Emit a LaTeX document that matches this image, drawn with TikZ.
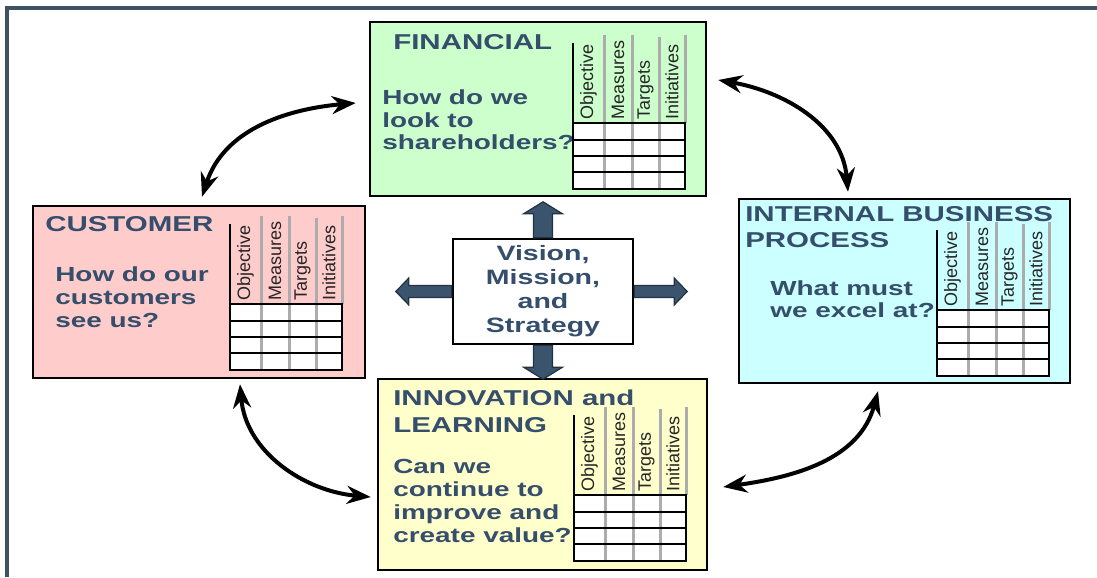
\documentclass[tikz,border=0pt]{standalone}
\usepackage{fontspec}
\setmainfont{Liberation Sans}
\newfontfamily\widefont[FakeStretch=1.37]{Liberation Sans}
\usetikzlibrary{arrows.meta}

\definecolor{finfill}{RGB}{204,255,204}
\definecolor{custfill}{RGB}{255,204,204}
\definecolor{intlfill}{RGB}{204,255,255}
\definecolor{innovfill}{RGB}{255,255,204}
\definecolor{ink}{RGB}{52,78,108}
\definecolor{arrowfill}{RGB}{58,84,110}
\definecolor{framecol}{RGB}{62,82,98}

\begin{document}
\begin{tikzpicture}[x=0.25mm, y=0.25mm,
  card/.style={draw, line width=0.6mm, inner sep=0},
  head/.style={anchor=base west, inner sep=0, align=left, text=ink,
    font=\widefont\bfseries\fontsize{15.3}{18.5}\selectfont},
  ask/.style={anchor=base west, inner sep=0, align=left, text=ink,
    font=\widefont\bfseries\fontsize{14.5}{16.2}\selectfont},
  collabel/.style={rotate=90, anchor=west, inner sep=0, text=black!85,
    font=\fontsize{12.8}{14}\selectfont},
  link/.style={{Stealth[length=6mm, width=4.5mm]}-{Stealth[length=6mm, width=4.5mm]}, line width=1mm},
  bigarrow/.style={fill=arrowfill, draw=arrowfill!60!black, line width=0.3mm},
  scoretable/.pic={
    \fill[white] (0,0) rectangle (112,-66);
    \draw[gray!65, line width=0.75mm] (31,88) -- (31,-66) (59,88) -- (59,-66)
      (86,86) -- (86,-66) (112,88) -- (112,0);
    \draw[line width=0.5mm] (0,80) -- (0,0);
    \draw[line width=0.35mm] (0,-17) -- (112,-17) (0,-33) -- (112,-33) (0,-49) -- (112,-49);
    \draw[line width=0.6mm] (0,0) rectangle (112,-66);
    \foreach \colname/\cx [count=\i] in {Objective/15.5,Measures/45,Targets/72.5,Initiatives/99}
      \node[collabel] (-col\i) at (\cx,3) {\colname};
  }]
  \useasboundingbox (0,0) rectangle (1097,577);
  \draw[framecol, line width=0.8mm] (7,0) -- (7,569) -- (1097,569);

  % the four perspectives
  \node[card, fill=finfill, minimum width=84mm, minimum height=43.5mm] (fin) at (538,468) {};
  \node[card, fill=custfill, minimum width=83mm, minimum height=43mm] (cust) at (199,285) {};
  \node[card, fill=intlfill, minimum width=82.75mm, minimum height=46mm] (intl) at (904.5,286) {};
  \node[card, fill=innovfill, minimum width=82.25mm, minimum height=47.75mm] (innov) at (542.5,102.5) {};

  % text blocks sit on the baseline of their last line
  \node[head] (fintitle) at (393,527) {FINANCIAL};
  \node[ask] (finask) at (382,427) {How do we\\look to\\shareholders?};
  \node[head] (custtitle) at (45,345) {CUSTOMER};
  \node[ask] (custask) at (55,250) {How do our\\customers\\see us?};
  \node[head] (intltitle) at (745,329) {INTERNAL BUSINESS\\PROCESS};
  \node[ask] (intlask) at (770,259) {What must\\we excel at?};
  \node[head] (innovtitle) at (393,145) {INNOVATION and\\LEARNING};
  \node[ask] (innovask) at (393,35) {Can we\\continue to\\improve and\\create value?};

  \pic (fintab) at (573,454) {scoretable};
  \pic (custtab) at (230,273) {scoretable};
  \pic (intltab) at (937,267) {scoretable};
  \pic (innovtab) at (574,82) {scoretable};

  % centre box with its block arrows
  \node[card, fill=white, minimum width=45mm, minimum height=26.25mm, align=center, text=ink,
    font=\widefont\bfseries\fontsize{14.8}{17}\selectfont] (vision) at (543,285.5)
    {Vision,\\Mission,\\and\\Strategy};
  \filldraw[bigarrow] ([shift={(-9.5,0)}]vision.north) -- ++(0,24) -- ++(-10,0)
    -- ([shift={(0,36)}]vision.north) -- ++(19.5,-12) -- ++(-10,0) -- ([shift={(9.5,0)}]vision.north) -- cycle;
  \filldraw[bigarrow] ([shift={(-9.5,0)}]vision.south) -- ++(0,-22) -- ++(-10,0)
    -- ([shift={(0,-34)}]vision.south) -- ++(19.5,12) -- ++(-10,0) -- ([shift={(9.5,0)}]vision.south) -- cycle;
  \filldraw[bigarrow] ([shift={(0,6)}]vision.west) -- ++(-43,0) -- ++(0,7.5)
    -- ([shift={(-56,0)}]vision.west) -- ++(13,-13.5) -- ++(0,7.5) -- ([shift={(0,-6)}]vision.west) -- cycle;
  \filldraw[bigarrow] ([shift={(0,6)}]vision.east) -- ++(40,0) -- ++(0,7.5)
    -- ([shift={(53,0)}]vision.east) -- ++(-13,-13.5) -- ++(0,7.5) -- ([shift={(0,-6)}]vision.east) -- cycle;

  % links between the perspectives
  \draw[link] ([shift={(3,8)}]cust.north) to[out=72, in=185] ([shift={(-13,6)}]fin.west);
  \draw[link] ([shift={(11,29)}]fin.east) to[out=-10, in=95] ([shift={(-56.5,6)}]intl.north);
  \draw[link] ([shift={(41,-5)}]cust.south) to[out=-85, in=175] ([shift={(-6,-22.5)}]innov.west);
  \draw[link] ([shift={(15,-12.5)}]innov.east) to[out=8, in=255] ([shift={(-26.5,-7)}]intl.south);
\end{tikzpicture}
\end{document}
